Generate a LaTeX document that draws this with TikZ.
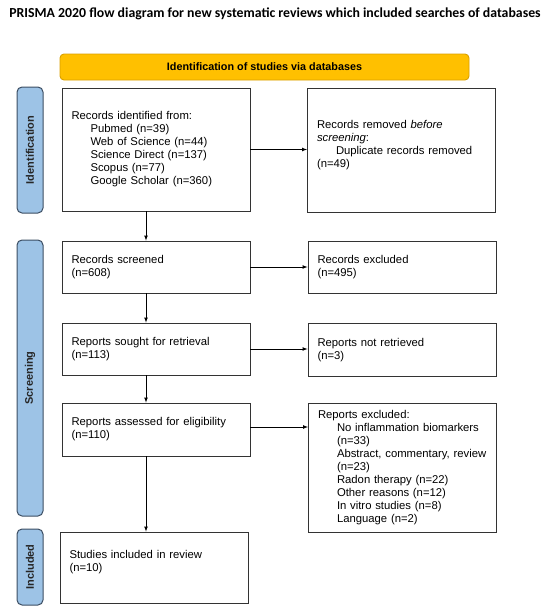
\documentclass[tikz,border=0pt]{standalone}
\usepackage{fontspec}
\setmainfont{Liberation Sans}
\newfontfamily\titlefont{Carlito}
\definecolor{barfill}{HTML}{FFC000}
\definecolor{barline}{HTML}{D9A000}
\definecolor{phasefill}{HTML}{9DC3E6}
\definecolor{phaseline}{HTML}{3C4E63}

\begin{document}
\begin{tikzpicture}[x=1pt,y=-1pt,
  box/.style={draw=black!80,line width=0.9pt,fill=white,align=left,
    text width=169pt,inner xsep=9.5pt,inner ysep=0pt,
    font=\fontsize{11.3}{13}\selectfont},
  phase/.style={draw=phaseline,fill=phasefill,rounded corners=5pt,line width=1pt,
    rotate=90,minimum height=26pt,inner sep=0pt,text=black!85,
    font=\bfseries\fontsize{11}{13}\selectfont},
  flow/.style={-latex,line width=0.7pt}]
\useasboundingbox (0,0) rectangle (550,614);

\node[font=\titlefont\bfseries\fontsize{13.8}{15}\selectfont] (title) at (275,14)
  {PRISMA 2020 flow diagram for new systematic reviews which included searches of databases};
\node[draw=barline,fill=barfill,line width=0.9pt,rounded corners=4pt,minimum width=409pt,
  minimum height=26pt,inner sep=0pt,font=\bfseries\fontsize{10.8}{13}\selectfont] (head)
  at (264.5,67) {Identification of studies via databases};

% phases
\node[phase,minimum width=126pt] (identification) at (30,150) {Identification};
\node[phase,minimum width=276pt] (screening) at (30,378) {Screening};
\node[phase,minimum width=76pt] (included) at (30,567) {Included};

% left column
\node[box,minimum height=123pt] (idrec) at (156,149.5) {Records identified from:\\
  \hspace*{19pt}Pubmed (n=39)\\
  \hspace*{19pt}Web of Science (n=44)\\
  \hspace*{19pt}Science Direct (n=137)\\
  \hspace*{19pt}Scopus (n=77)\\
  \hspace*{19pt}Google Scholar (n=360)};
\node[box,minimum height=52pt] (screened) at (156,267) {Records screened\\(n=608)};
\node[box,minimum height=52pt] (sought) at (156,349) {Reports sought for retrieval\\(n=113)};
\node[box,minimum height=53pt] (assessed) at (156,429.5) {Reports assessed for eligibility\\(n=110)};
\node[box,minimum height=71pt] (studies) at (154,567.5) {Studies included in review\\(n=10)\\ \mbox{}};

% right column
\node[box,minimum height=124pt] (removed) at (401.5,150) {Records removed \textit{before}\\
  \textit{screening}:\\
  \hspace*{19pt}Duplicate records removed\\
  (n=49)\\ \mbox{}};
\node[box,minimum height=52pt] (excluded) at (402,267) {Records excluded\\(n=495)};
\node[box,minimum height=53pt] (notretrieved) at (402,350) {Reports not retrieved\\(n=3)};
\node[box,minimum height=129pt] (repexcl) at (402.5,467.5) {Reports excluded:\\
  \hspace*{19pt}No inflammation biomarkers\\
  \hspace*{19pt}(n=33)\\
  \hspace*{19pt}Abstract, commentary, review\\
  \hspace*{19pt}(n=23)\\
  \hspace*{19pt}Radon therapy (n=22)\\
  \hspace*{19pt}Other reasons (n=12)\\
  \hspace*{19pt}In vitro studies (n=8)\\
  \hspace*{19pt}Language (n=2)};

% arrows
\draw[flow] ([xshift=-10pt]idrec.south) -- ([xshift=-10pt]idrec.south |- screened.north);
\draw[flow] ([xshift=-10pt]screened.south) -- ([xshift=-10pt]screened.south |- sought.north);
\draw[flow] ([xshift=-10pt]sought.south) -- ([xshift=-10pt]sought.south |- assessed.north);
\draw[flow] ([xshift=-10pt]assessed.south) -- ([xshift=-10pt]assessed.south |- studies.north);
\draw[flow] (idrec.east) -- (idrec.east -| removed.west);
\draw[flow] (screened.east) -- (screened.east -| excluded.west);
\draw[flow] (sought.east) -- (sought.east -| notretrieved.west);
\draw[flow] ([yshift=2.5pt]assessed.east) -- ([yshift=2.5pt]assessed.east -| repexcl.west);
\end{tikzpicture}
\end{document}
